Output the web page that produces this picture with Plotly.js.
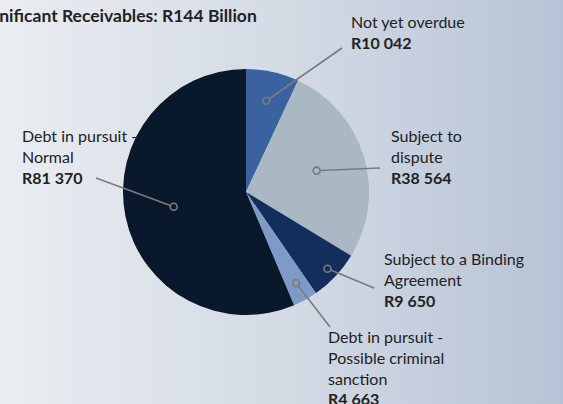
<!DOCTYPE html>
<html>
<head>
<meta charset="utf-8">
<script src="https://cdn.plot.ly/plotly-3.0.1.min.js"></script>
<style>
  html, body { margin: 0; padding: 0; }
  #chart { width: 563px; height: 404px; background: linear-gradient(90deg, #eaedf1 0%, #d4dbe5 50%, #b6c3d6 100%); }
</style>
</head>
<body>
<div id="chart"></div>
<script>
// ---- data ----
const categories = ["Not yet overdue", "Subject to dispute", "Subject to a Binding Agreement", "Debt in pursuit - Possible criminal sanction", "Debt in pursuit - Normal"];
const values = [10042, 38564, 9650, 4663, 81370];
const labelLines = [["Not yet overdue"], ["Subject to", "dispute"], ["Subject to a Binding", "Agreement"], ["Debt in pursuit -", "Possible criminal", "sanction"], ["Debt in pursuit -", "Normal"]];
const titleText = "Significant Receivables: R144 Billion";

// ---- style / layout ----
const colors = ["#3a62a0", "#a9b8c3", "#132d5c", "#7d9bc6", "#0a182c"];
const W = 563, H = 404;
const cx = 246, cy = 192, R = 123;            // pie centre / radius (px)
const markerDepth = [0.76, 0.6, 0.91, 0.845, 0.6];
const lineEnds = [[342, 48], [380, 168], [374, 288], [330, 327], [96, 178]];
const labelPos = [[349, 32.5], [389, 156], [382, 279], [326, 367.5], [20, 156]];

function fmt(v) {
  const s = String(v);
  return "R" + s.replace(/\B(?=(\d{3})+(?!\d))/g, " ");
}
const px = x => x / W, py = y => 1 - y / H;

const total = values.reduce((a, b) => a + b, 0);
const shapes = [], annotations = [];
let cum = 0;
values.forEach((v, i) => {
  const mid = (cum + v / 2) / total * 2 * Math.PI;
  cum += v;
  const mx = cx + markerDepth[i] * R * Math.sin(mid);
  const my = cy - markerDepth[i] * R * Math.cos(mid);
  const [ex, ey] = lineEnds[i];
  const d = Math.hypot(ex - mx, ey - my), rr = 3.5;
  const sx = mx + (ex - mx) / d * rr, sy = my + (ey - my) / d * rr;
  shapes.push({type: "line", xref: "paper", yref: "paper", x0: px(sx), y0: py(sy), x1: px(ex), y1: py(ey),
    line: {color: "#7b7b7b", width: 1.6}, layer: "above"});
  shapes.push({type: "circle", xref: "paper", yref: "paper", xsizemode: "pixel", ysizemode: "pixel",
    xanchor: px(mx), yanchor: py(my), x0: -rr, x1: rr, y0: -rr, y1: rr,
    line: {color: "#7b7b7b", width: 1.6}, fillcolor: "rgba(0,0,0,0)", layer: "above"});
  const txt = labelLines[i].join("<br>") + "<br><b>" + fmt(v) + "</b>";
  annotations.push({xref: "paper", yref: "paper", x: px(labelPos[i][0]), y: py(labelPos[i][1]),
    xanchor: "left", yanchor: "middle", align: "left", showarrow: false, text: txt,
    font: {family: "Lato", size: 16, color: "#222"}});
});
annotations.push({xref: "paper", yref: "paper", x: px(259), y: py(15), xanchor: "right", yanchor: "middle",
  showarrow: false, text: "<b>" + titleText + "</b>", font: {family: "Lato", size: 17.5, color: "#222"}});

const trace = {
  type: "pie",
  labels: categories,
  values: values,
  sort: false,
  direction: "clockwise",
  rotation: 0,
  textinfo: "none",
  hoverinfo: "label+value",
  marker: {colors: colors, line: {width: 0}},
  domain: {x: [(cx - R) / W, (cx + R) / W], y: [1 - (cy + R) / H, 1 - (cy - R) / H]},
  showlegend: false
};

Plotly.newPlot("chart", [trace], {
  width: W, height: H,
  margin: {l: 0, r: 0, t: 0, b: 0},
  paper_bgcolor: "rgba(0,0,0,0)",
  plot_bgcolor: "rgba(0,0,0,0)",
  showlegend: false,
  shapes: shapes,
  annotations: annotations
}, {displayModeBar: false, staticPlot: true});
</script>
</body>
</html>
